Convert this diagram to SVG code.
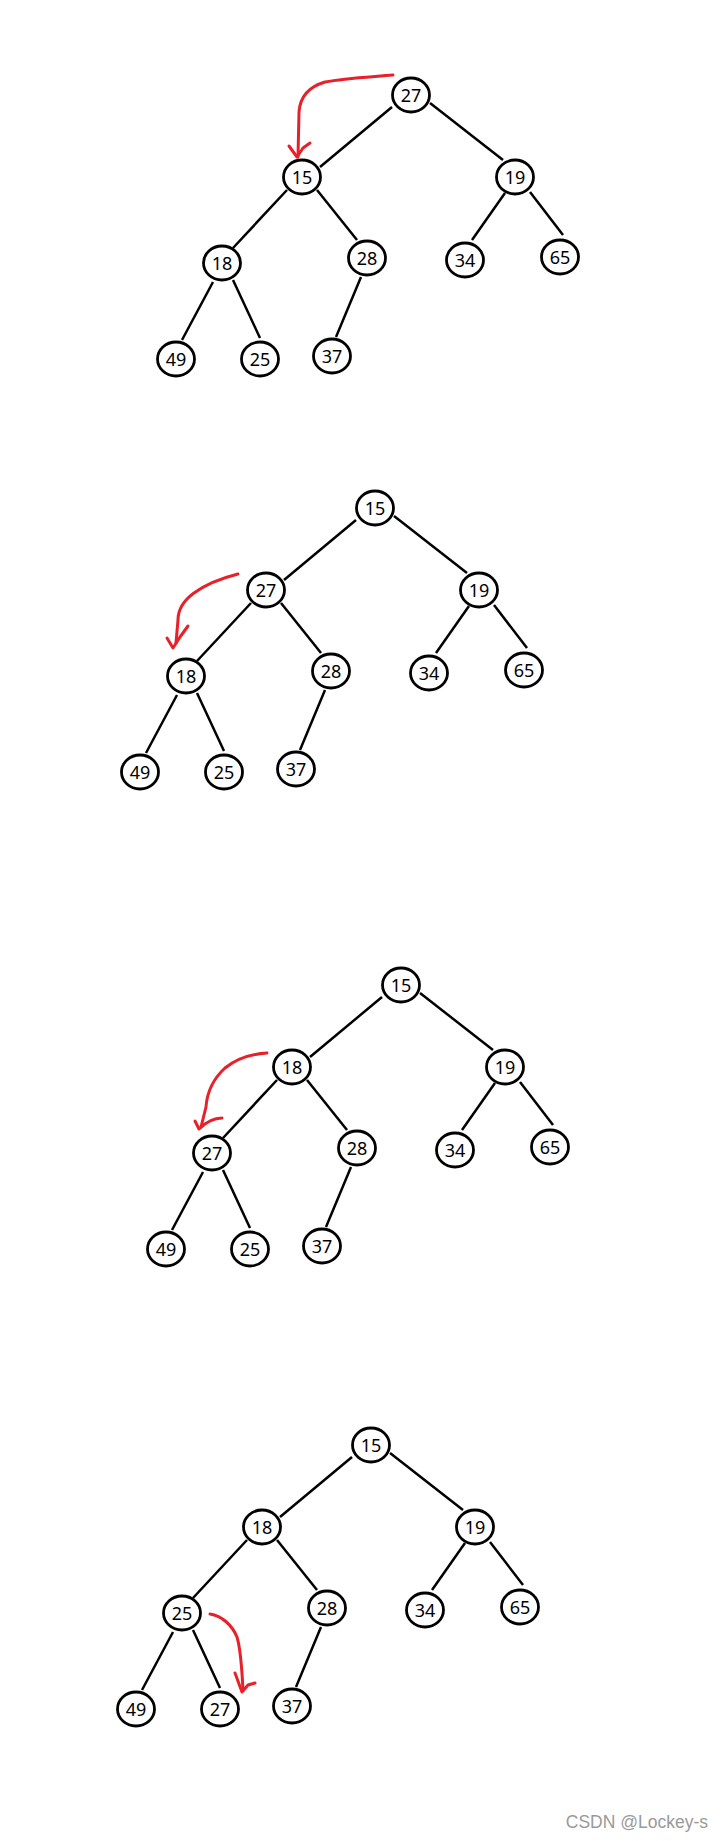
<svg xmlns="http://www.w3.org/2000/svg" width="724" height="1841" viewBox="0 0 724 1841">
<style>
.n ellipse{fill:#fff;stroke:#000;stroke-width:2.8}
.n text{font-family:"Noto Sans","DejaVu Sans",sans-serif;font-size:18px;fill:#000;text-anchor:middle}
.e line{stroke:#000;stroke-width:2.5;stroke-linecap:butt}
.r path{fill:none;stroke:#e8202a;stroke-width:3;stroke-linecap:round;stroke-linejoin:round}
.wm{font-family:"Liberation Sans",Arial,sans-serif;font-size:17.5px;fill:#9a9a9a;text-anchor:end}
</style>
<rect width="724" height="1841" fill="#fff"/>

<!-- Tree 1 -->
<g id="tree1" transform="translate(411,95)">
<g id="t1-connectors" class="e">
<line x1="-19" y1="12" x2="-91" y2="72"/>
<line x1="19" y1="8" x2="92" y2="65"/>
<line x1="-124" y1="95" x2="-178" y2="153"/>
<line x1="-94" y1="95" x2="-54" y2="145"/>
<line x1="94" y1="98" x2="61" y2="145"/>
<line x1="119" y1="97" x2="152" y2="140"/>
<line x1="-198" y1="187" x2="-229" y2="245"/>
<line x1="-178" y1="185" x2="-151" y2="243"/>
<line x1="-50" y1="182" x2="-75" y2="242"/>
</g>
<g id="t1-n27" class="n"><ellipse cx="0" cy="0" rx="18.5" ry="17"/><text x="0" y="6.5">27</text></g>
<g id="t1-n15" class="n"><ellipse cx="-109" cy="82" rx="18.5" ry="17"/><text x="-109" y="88.5">15</text></g>
<g id="t1-n19" class="n"><ellipse cx="104" cy="82" rx="18.5" ry="17"/><text x="104" y="88.5">19</text></g>
<g id="t1-n18" class="n"><ellipse cx="-189" cy="168" rx="18.5" ry="17"/><text x="-189" y="174.5">18</text></g>
<g id="t1-n28" class="n"><ellipse cx="-44" cy="163" rx="18.5" ry="17"/><text x="-44" y="169.5">28</text></g>
<g id="t1-n34" class="n"><ellipse cx="54" cy="165" rx="18.5" ry="17"/><text x="54" y="171.5">34</text></g>
<g id="t1-n65" class="n"><ellipse cx="149" cy="162" rx="18.5" ry="17"/><text x="149" y="168.5">65</text></g>
<g id="t1-n49" class="n"><ellipse cx="-235" cy="264" rx="18.5" ry="17"/><text x="-235" y="270.5">49</text></g>
<g id="t1-n25" class="n"><ellipse cx="-151" cy="264" rx="18.5" ry="17"/><text x="-151" y="270.5">25</text></g>
<g id="t1-n37" class="n"><ellipse cx="-79" cy="261" rx="18.5" ry="17"/><text x="-79" y="267.5">37</text></g>
</g>

<!-- Tree 2 -->
<g id="tree2" transform="translate(375,508)">
<g id="t2-connectors" class="e">
<line x1="-19" y1="12" x2="-91" y2="72"/>
<line x1="19" y1="8" x2="92" y2="65"/>
<line x1="-124" y1="95" x2="-178" y2="153"/>
<line x1="-94" y1="95" x2="-54" y2="145"/>
<line x1="94" y1="98" x2="61" y2="145"/>
<line x1="119" y1="97" x2="152" y2="140"/>
<line x1="-198" y1="187" x2="-229" y2="245"/>
<line x1="-178" y1="185" x2="-151" y2="243"/>
<line x1="-50" y1="182" x2="-75" y2="242"/>
</g>
<g id="t2-n15" class="n"><ellipse cx="0" cy="0" rx="18.5" ry="17"/><text x="0" y="6.5">15</text></g>
<g id="t2-n27" class="n"><ellipse cx="-109" cy="82" rx="18.5" ry="17"/><text x="-109" y="88.5">27</text></g>
<g id="t2-n19" class="n"><ellipse cx="104" cy="82" rx="18.5" ry="17"/><text x="104" y="88.5">19</text></g>
<g id="t2-n18" class="n"><ellipse cx="-189" cy="168" rx="18.5" ry="17"/><text x="-189" y="174.5">18</text></g>
<g id="t2-n28" class="n"><ellipse cx="-44" cy="163" rx="18.5" ry="17"/><text x="-44" y="169.5">28</text></g>
<g id="t2-n34" class="n"><ellipse cx="54" cy="165" rx="18.5" ry="17"/><text x="54" y="171.5">34</text></g>
<g id="t2-n65" class="n"><ellipse cx="149" cy="162" rx="18.5" ry="17"/><text x="149" y="168.5">65</text></g>
<g id="t2-n49" class="n"><ellipse cx="-235" cy="264" rx="18.5" ry="17"/><text x="-235" y="270.5">49</text></g>
<g id="t2-n25" class="n"><ellipse cx="-151" cy="264" rx="18.5" ry="17"/><text x="-151" y="270.5">25</text></g>
<g id="t2-n37" class="n"><ellipse cx="-79" cy="261" rx="18.5" ry="17"/><text x="-79" y="267.5">37</text></g>
</g>

<!-- Tree 3 -->
<g id="tree3" transform="translate(401,985)">
<g id="t3-connectors" class="e">
<line x1="-19" y1="12" x2="-91" y2="72"/>
<line x1="19" y1="8" x2="92" y2="65"/>
<line x1="-124" y1="95" x2="-178" y2="153"/>
<line x1="-94" y1="95" x2="-54" y2="145"/>
<line x1="94" y1="98" x2="61" y2="145"/>
<line x1="119" y1="97" x2="152" y2="140"/>
<line x1="-198" y1="187" x2="-229" y2="245"/>
<line x1="-178" y1="185" x2="-151" y2="243"/>
<line x1="-50" y1="182" x2="-75" y2="242"/>
</g>
<g id="t3-n15" class="n"><ellipse cx="0" cy="0" rx="18.5" ry="17"/><text x="0" y="6.5">15</text></g>
<g id="t3-n18" class="n"><ellipse cx="-109" cy="82" rx="18.5" ry="17"/><text x="-109" y="88.5">18</text></g>
<g id="t3-n19" class="n"><ellipse cx="104" cy="82" rx="18.5" ry="17"/><text x="104" y="88.5">19</text></g>
<g id="t3-n27" class="n"><ellipse cx="-189" cy="168" rx="18.5" ry="17"/><text x="-189" y="174.5">27</text></g>
<g id="t3-n28" class="n"><ellipse cx="-44" cy="163" rx="18.5" ry="17"/><text x="-44" y="169.5">28</text></g>
<g id="t3-n34" class="n"><ellipse cx="54" cy="165" rx="18.5" ry="17"/><text x="54" y="171.5">34</text></g>
<g id="t3-n65" class="n"><ellipse cx="149" cy="162" rx="18.5" ry="17"/><text x="149" y="168.5">65</text></g>
<g id="t3-n49" class="n"><ellipse cx="-235" cy="264" rx="18.5" ry="17"/><text x="-235" y="270.5">49</text></g>
<g id="t3-n25" class="n"><ellipse cx="-151" cy="264" rx="18.5" ry="17"/><text x="-151" y="270.5">25</text></g>
<g id="t3-n37" class="n"><ellipse cx="-79" cy="261" rx="18.5" ry="17"/><text x="-79" y="267.5">37</text></g>
</g>

<!-- Tree 4 -->
<g id="tree4" transform="translate(371,1445)">
<g id="t4-connectors" class="e">
<line x1="-19" y1="12" x2="-91" y2="72"/>
<line x1="19" y1="8" x2="92" y2="65"/>
<line x1="-124" y1="95" x2="-178" y2="153"/>
<line x1="-94" y1="95" x2="-54" y2="145"/>
<line x1="94" y1="98" x2="61" y2="145"/>
<line x1="119" y1="97" x2="152" y2="140"/>
<line x1="-198" y1="187" x2="-229" y2="245"/>
<line x1="-178" y1="185" x2="-151" y2="243"/>
<line x1="-50" y1="182" x2="-75" y2="242"/>
</g>
<g id="t4-n15" class="n"><ellipse cx="0" cy="0" rx="18.5" ry="17"/><text x="0" y="6.5">15</text></g>
<g id="t4-n18" class="n"><ellipse cx="-109" cy="82" rx="18.5" ry="17"/><text x="-109" y="88.5">18</text></g>
<g id="t4-n19" class="n"><ellipse cx="104" cy="82" rx="18.5" ry="17"/><text x="104" y="88.5">19</text></g>
<g id="t4-n25" class="n"><ellipse cx="-189" cy="168" rx="18.5" ry="17"/><text x="-189" y="174.5">25</text></g>
<g id="t4-n28" class="n"><ellipse cx="-44" cy="163" rx="18.5" ry="17"/><text x="-44" y="169.5">28</text></g>
<g id="t4-n34" class="n"><ellipse cx="54" cy="165" rx="18.5" ry="17"/><text x="54" y="171.5">34</text></g>
<g id="t4-n65" class="n"><ellipse cx="149" cy="162" rx="18.5" ry="17"/><text x="149" y="168.5">65</text></g>
<g id="t4-n49" class="n"><ellipse cx="-235" cy="264" rx="18.5" ry="17"/><text x="-235" y="270.5">49</text></g>
<g id="t4-n27" class="n"><ellipse cx="-151" cy="264" rx="18.5" ry="17"/><text x="-151" y="270.5">27</text></g>
<g id="t4-n37" class="n"><ellipse cx="-79" cy="261" rx="18.5" ry="17"/><text x="-79" y="267.5">37</text></g>
</g>

<!-- Red swap arrows -->
<g id="swap-arrows" class="r">
<path d="M393,75 C370,77 345,78 325,82 C308,87 300,97 299,112 L298,157"/>
<path d="M289,146 L297,157 L303,148 L310,143"/>
<path d="M238,574 C222,578 205,585 194,593 C183,601 178,609 178,620 L176,643"/>
<path d="M167,638 L173,648 L180,637 L188,626"/>
<path d="M267,1053 C250,1054 235,1060 225,1068 C212,1080 207,1092 206,1107 L201,1127"/>
<path d="M195,1121 L199,1129 C205,1123 213,1118 222,1118"/>
<path d="M210,1614 C222,1616 232,1625 237,1637 C241,1650 242,1670 243,1690"/>
<path d="M235,1673 L242,1692 L248,1685 L255,1683"/>
</g>

<text class="wm" x="708" y="1828">CSDN @Lockey-s</text>
</svg>
